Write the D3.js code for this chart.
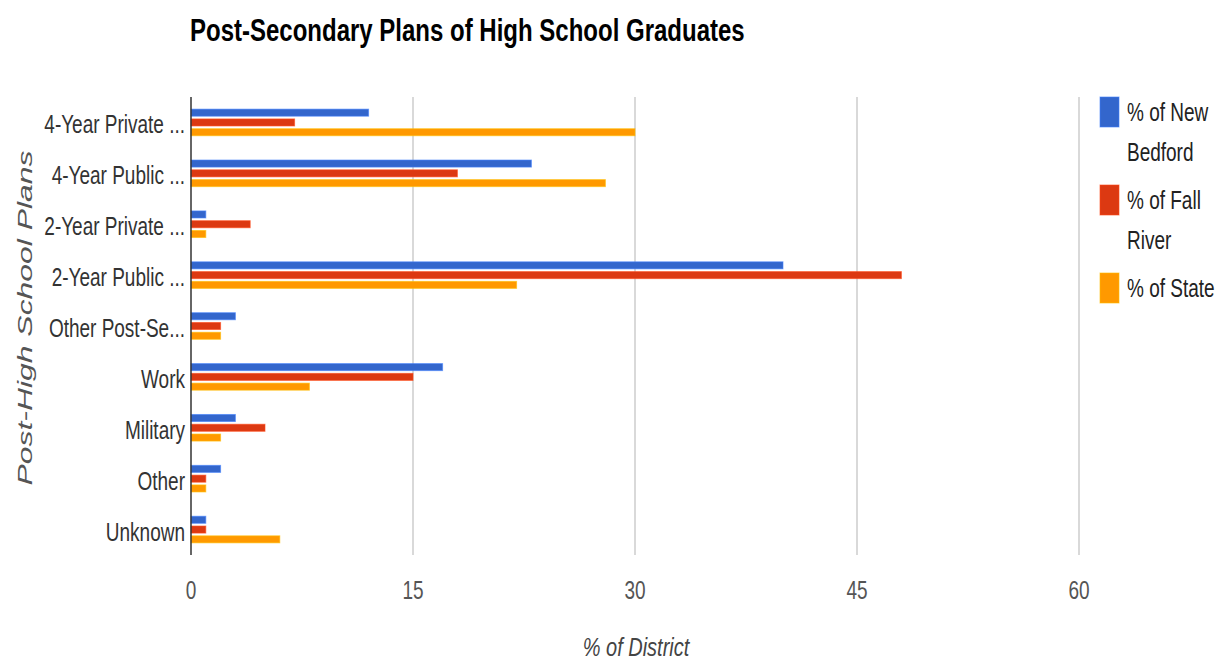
<!DOCTYPE html>
<html>
<head>
<meta charset="utf-8">
<script src="https://cdn.jsdelivr.net/npm/d3@7"></script>
<style>
  html, body { margin: 0; padding: 0; background: #fff; }
  svg { display: block; font-family: "Liberation Sans", Arial, sans-serif; }
</style>
</head>
<body>
<svg id="chart" width="1219" height="663"></svg>
<script>
const title = "Post-Secondary Plans of High School Graduates";
const categories = ["4-Year Private ...", "4-Year Public ...", "2-Year Private ...", "2-Year Public ...",
  "Other Post-Se...", "Work", "Military", "Other", "Unknown"];
const seriesNames = ["% of New Bedford", "% of Fall River", "% of State"];
const legendLines = [["% of New", "Bedford"], ["% of Fall", "River"], ["% of State"]];
const newBedford = [12, 23, 1, 40, 3, 17, 3, 2, 1];
const fallRiver  = [7, 18, 4, 48, 2, 15, 5, 1, 1];
const state      = [30, 28, 1, 22, 2, 8, 2, 1, 6];
const xTicks = [0, 15, 30, 45, 60];
const xTitle = "% of District";
const yTitle = "Post-High School Plans";
const colors = ["#3366cc", "#dc3912", "#ff9900"];

const series = [newBedford, fallRiver, state];
const svg = d3.select("#chart");
const SY = 1.38;

function sText(parent, x, y, str, opts = {}) {
  const g = parent.append("g").attr("transform", `translate(${x},${y}) scale(1,${opts.sy || SY})`);
  return g.append("text")
    .attr("x", 0).attr("y", 0)
    .attr("text-anchor", opts.anchor || "start")
    .attr("font-size", opts.size || 19)
    .attr("font-weight", opts.weight || "normal")
    .attr("font-style", opts.style || "normal")
    .attr("fill", opts.fill || "#222")
    .text(str);
}

const x = d3.scaleLinear().domain([0, 60]).range([191, 1079]);
const y = d3.scaleBand().domain(categories).range([97, 555]).padding(0);
const yInner = d3.scaleBand().domain(seriesNames).range([-13.3, 13.3]).paddingInner(0.28);

// Title
sText(svg, 190, 41, title, { size: 24, weight: "bold", fill: "#000", sy: 1.3 });

// Gridlines
svg.append("g").selectAll("line").data(xTicks.filter(d => d !== 0)).join("line")
  .attr("x1", d => x(d)).attr("x2", d => x(d))
  .attr("y1", 97).attr("y2", 555)
  .attr("stroke", "#cccccc").attr("stroke-width", 1.5);

// Bars
categories.forEach((cat, i) => {
  const cy = y(cat) + y.bandwidth() / 2;
  seriesNames.forEach((s, j) => {
    svg.append("rect")
      .attr("x", x(0))
      .attr("y", cy + yInner(s))
      .attr("width", x(series[j][i]) - x(0))
      .attr("height", yInner.bandwidth())
      .attr("fill", colors[j])
      .attr("stroke", d3.color(colors[j]).brighter(0.6))
      .attr("stroke-opacity", 0.6)
      .attr("stroke-width", 1);
  });
});

// Zero axis line
svg.append("line")
  .attr("x1", x(0)).attr("x2", x(0)).attr("y1", 97).attr("y2", 555)
  .attr("stroke", "#333").attr("stroke-width", 1.5);

// Category labels
categories.forEach(cat => {
  const cy = y(cat) + y.bandwidth() / 2;
  sText(svg, 185, cy + 11, cat, { anchor: "end", fill: "#333" });
});

// Tick labels
xTicks.forEach(t => {
  sText(svg, x(t), 599, String(t), { anchor: "middle", fill: "#555" });
});

// Axis titles
sText(svg, 636, 656, xTitle, { anchor: "middle", style: "italic", fill: "#444", size: 20, sy: 1.3 });
svg.append("g")
  .attr("transform", `translate(32,318) rotate(-90) scale(1.52,1)`)
  .append("text")
  .attr("text-anchor", "middle")
  .attr("font-size", 21)
  .attr("font-style", "italic")
  .attr("fill", "#555")
  .text(yTitle);

// Legend
const legendY = [97, 185, 273];
seriesNames.forEach((s, j) => {
  svg.append("rect")
    .attr("x", 1100).attr("y", legendY[j])
    .attr("width", 19).attr("height", 30)
    .attr("fill", colors[j])
    .attr("stroke", d3.color(colors[j]).brighter(0.6))
    .attr("stroke-opacity", 0.6);
  legendLines[j].forEach((line, k) => {
    sText(svg, 1127, legendY[j] + 24 + k * 40, line, { fill: "#222" });
  });
});
</script>
</body>
</html>
